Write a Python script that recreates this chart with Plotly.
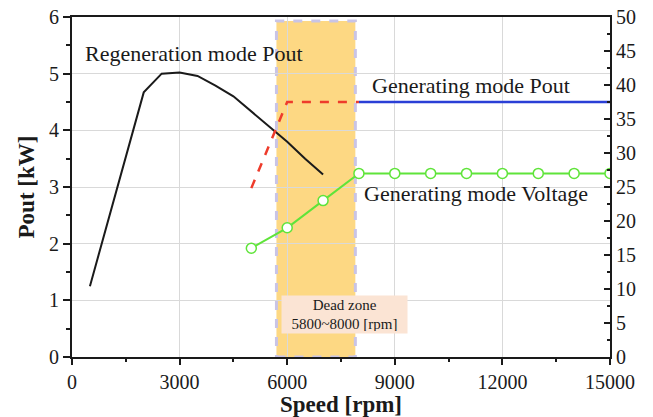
import plotly.graph_objects as go

# Regeneration mode Pout (kW)
regen_speed = [500, 2000, 2500, 3000, 3500, 4000, 4500, 5000, 5500, 6000, 6500, 7000]
regen_pout = [1.25, 4.67, 5.0, 5.02, 4.96, 4.79, 4.6, 4.33, 4.07, 3.8, 3.5, 3.22]

# Generating mode Pout (kW) - transition part (dashed) and steady part
gen_trans_speed = [5000, 6000, 8000]
gen_trans_pout = [2.98, 4.5, 4.5]
gen_speed = [8000, 15000]
gen_pout = [4.5, 4.5]

# Generating mode Voltage (right axis)
volt_speed = [5000, 6000, 7000, 8000, 9000, 10000, 11000, 12000, 13000, 14000, 15000]
volt_values = [16, 19, 23, 27, 27, 27, 27, 27, 27, 27, 27]

# Axis ticks
x_ticks = [0, 3000, 6000, 9000, 12000, 15000]
x_ticklabels = ["0", "3000", "6000", "9000", "12000", "15000"]

# Dead zone extent
dead_x = [5700, 7900]
dead_top = 5.93

FONT = "Liberation Serif"
TXT = "#1a1a1a"

fig = go.Figure()
fig.add_trace(go.Scatter(x=regen_speed, y=regen_pout, mode="lines",
                         line=dict(color="#1a1a1a", width=2), showlegend=False))
fig.add_trace(go.Scatter(x=gen_trans_speed, y=gen_trans_pout, mode="lines",
                         line=dict(color="#ee3b2b", width=2.5, dash="dash"), showlegend=False))
fig.add_trace(go.Scatter(x=gen_speed, y=gen_pout, mode="lines",
                         line=dict(color="#2a3fd6", width=2.5), showlegend=False))
fig.add_trace(go.Scatter(x=volt_speed, y=volt_values, mode="lines+markers", yaxis="y2",
                         line=dict(color="#5fe43a", width=2),
                         marker=dict(symbol="circle", size=10, color="white",
                                     line=dict(color="#5fe43a", width=1.5)),
                         showlegend=False))

fig.add_shape(type="rect", xref="x", yref="y", x0=dead_x[0], x1=dead_x[1], y0=0, y1=dead_top,
              fillcolor="#fdd883", line=dict(color="#c9c4e6", width=3, dash="dash"),
              layer="below")

fig.add_annotation(x=3405, y=5.36, text="Regeneration mode Pout", showarrow=False,
                   font=dict(family=FONT, size=22, color=TXT))
fig.add_annotation(x=11121, y=4.8, text="Generating mode Pout", showarrow=False,
                   font=dict(family=FONT, size=22, color=TXT))
fig.add_annotation(x=11274, y=2.88, text="Generating mode Voltage", showarrow=False,
                   font=dict(family=FONT, size=22, color=TXT))
fig.add_annotation(x=7605, y=0.75, text="Dead zone<br>5800~8000 [rpm]", showarrow=False,
                   font=dict(family=FONT, size=15, color=TXT), bgcolor="#fbe4d4",
                   width=121, height=33, borderpad=2)

fig.update_layout(
    width=653, height=417,
    margin=dict(l=72, r=43, t=17, b=60),
    plot_bgcolor="white", paper_bgcolor="white",
    font=dict(family=FONT, color=TXT),
    xaxis=dict(range=[0, 15000], tickvals=x_ticks, ticktext=x_ticklabels, automargin=False,
               showgrid=True, gridcolor="#d9d9d9", gridwidth=1,
               showline=True, linecolor="#1a1a1a", linewidth=2, mirror=True,
               ticks="outside", ticklen=6, tickwidth=1.5, tickcolor="#1a1a1a",
               minor=dict(dtick=1500, tick0=0, ticks="outside", ticklen=3, tickcolor="#1a1a1a", showgrid=False),
               tickfont=dict(family=FONT, size=20, color=TXT), ticklabeloverflow="allow",
               title=dict(text="<b>Speed [rpm]</b>", font=dict(family=FONT, size=23, color=TXT), standoff=4),
               zeroline=False),
    yaxis=dict(range=[0, 6], dtick=1, showgrid=True, gridcolor="#d9d9d9", gridwidth=1, automargin=False,
               showline=True, linecolor="#1a1a1a", linewidth=2,
               ticks="outside", ticklen=7, tickwidth=1.5, tickcolor="#1a1a1a",
               minor=dict(dtick=0.5, ticks="outside", ticklen=4, tickcolor="#1a1a1a", showgrid=False),
               tickfont=dict(family=FONT, size=20, color=TXT), ticklabeloverflow="allow",
               title=dict(text="<b>Pout [kW]</b>", font=dict(family=FONT, size=23, color=TXT), standoff=8),
               zeroline=False),
    yaxis2=dict(range=[0, 50], dtick=5, overlaying="y", side="right", showgrid=False, automargin=False,
                showline=True, linecolor="#1a1a1a", linewidth=2,
                ticks="inside", ticklen=6, tickwidth=1.5, tickcolor="#1a1a1a",
                minor=dict(dtick=2.5, ticks="inside", ticklen=3, tickcolor="#1a1a1a", showgrid=False),
                tickfont=dict(family=FONT, size=20, color=TXT), ticklabeloverflow="allow",
                zeroline=False),
)

fig.write_html("out.html", config={"displayModeBar": False},
               post_script="document.body.style.margin='0';document.body.style.overflow='hidden';")
